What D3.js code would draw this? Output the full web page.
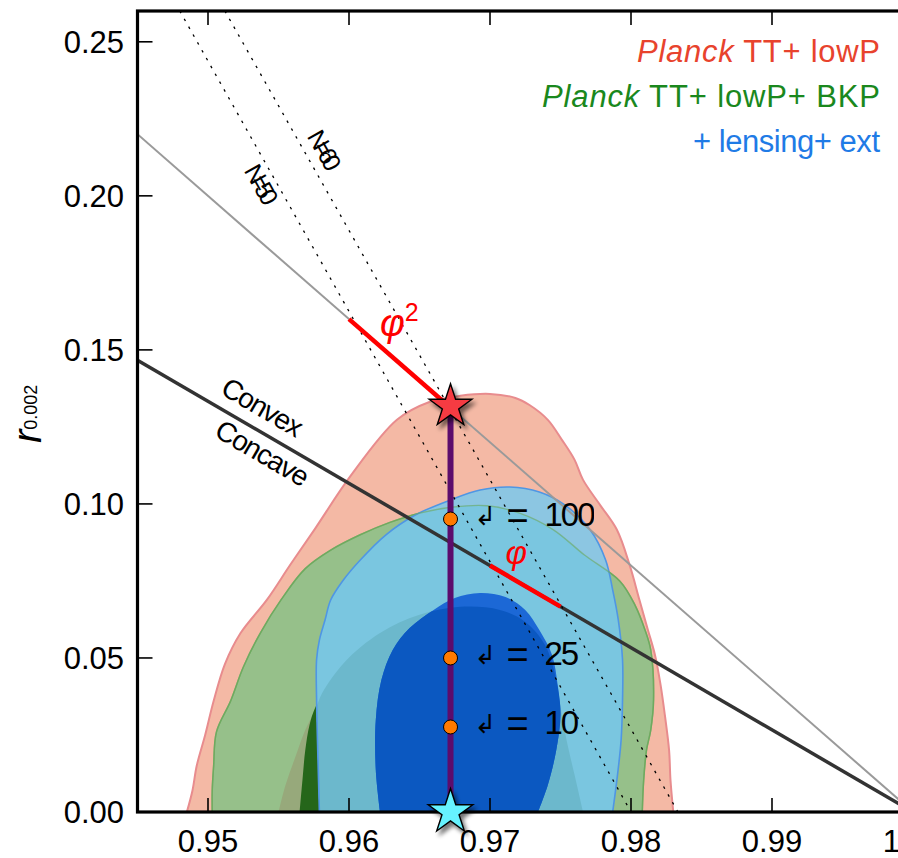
<!DOCTYPE html>
<html>
<head>
<meta charset="utf-8">
<script src="https://cdn.jsdelivr.net/npm/d3@7"></script>
<style>
  html, body { margin: 0; padding: 0; background: #fff; }
  svg { display: block; }
</style>
</head>
<body>
<div id="chart"></div>
<script>
// ---- axes ----
const xDomain = [0.945, 1.0];
const yDomain = [0, 0.26];
const xTicks = [0.95, 0.96, 0.97, 0.98, 0.99, 1.00];
const xTickLabels = ["0.95", "0.96", "0.97", "0.98", "0.99", "1.00"];
const yTicks = [0.00, 0.05, 0.10, 0.15, 0.20, 0.25];
const yTickLabels = ["0.00", "0.05", "0.10", "0.15", "0.20", "0.25"];

// ---- confidence contours, [n_s, r] ----
const planck95 = [[0.9485,0.000],[0.9489,0.007],[0.9492,0.015],[0.9498,0.025],[0.9504,0.036],[0.9512,0.048],[0.9523,0.058],[0.9542,0.069],[0.9558,0.080],[0.9576,0.092],[0.9601,0.109],[0.9634,0.1273],[0.9657,0.1331],[0.9679,0.1351],[0.9700,0.1357],[0.9718,0.1344],[0.9728,0.1321],[0.9741,0.1273],[0.9751,0.1208],[0.9760,0.1143],[0.9766,0.1078],[0.9778,0.0997],[0.9790,0.0916],[0.9799,0.0802],[0.9806,0.0688],[0.9812,0.0591],[0.9817,0.0510],[0.9821,0.0412],[0.9824,0.0315],[0.9827,0.0201],[0.9828,0.0104],[0.9830,0.000]];
const planck68 = [[0.9550,0],[0.9555,0.0088],[0.9562,0.0179],[0.9569,0.0266],[0.9576,0.0331],[0.9581,0.0386],[0.9597,0.0487],[0.9622,0.0581],[0.9650,0.0640],[0.9679,0.0666],[0.9707,0.0656],[0.9725,0.0617],[0.9739,0.0542],[0.9747,0.0429],[0.9751,0.0315],[0.9755,0.0218],[0.9760,0.0120],[0.9766,0]];
const bkp95 = [[0.9503,0],[0.9503,0.007],[0.9504,0.015],[0.9506,0.026],[0.9516,0.036],[0.9525,0.047],[0.9537,0.058],[0.9552,0.069],[0.9569,0.079],[0.9587,0.085],[0.9608,0.090],[0.9629,0.094],[0.9650,0.097],[0.9674,0.099],[0.9698,0.0994],[0.9721,0.097],[0.9745,0.0916],[0.9767,0.0834],[0.9792,0.075],[0.9803,0.067],[0.9810,0.059],[0.9814,0.0526],[0.9816,0.0364],[0.9814,0.0266],[0.9811,0.0201],[0.9809,0.0104],[0.9808,0]];
const bkp68 = [[0.9565,0],[0.9567,0.0104],[0.9569,0.0201],[0.9572,0.0282],[0.9576,0.0338],[0.9587,0.0429],[0.9608,0.0526],[0.9636,0.0591],[0.9672,0.0623],[0.9707,0.0607],[0.9728,0.0542],[0.9741,0.0429],[0.9746,0.0266],[0.9748,0]];
const ext95 = [[0.9579,0],[0.9578,0.0169],[0.9577,0.0364],[0.9577,0.0494],[0.9579,0.0558],[0.9583,0.0623],[0.9587,0.0688],[0.9596,0.0753],[0.9608,0.0818],[0.9626,0.0899],[0.9647,0.0964],[0.9672,0.1013],[0.9693,0.1045],[0.9714,0.1055],[0.9735,0.1039],[0.9753,0.0997],[0.9771,0.0916],[0.9782,0.0818],[0.9787,0.0721],[0.9791,0.0623],[0.9794,0.0494],[0.9794,0.0364],[0.9793,0.0234],[0.9790,0.0104],[0.9787,0]];
const ext68 = [[0.9622,0],[0.9619,0.0136],[0.9619,0.0299],[0.9623,0.0429],[0.9631,0.0526],[0.9643,0.0597],[0.9660,0.0656],[0.9675,0.0695],[0.9693,0.0711],[0.9711,0.0698],[0.9725,0.0656],[0.9735,0.0591],[0.9744,0.0510],[0.9748,0.0412],[0.9750,0.0315],[0.9747,0.0201],[0.9741,0.0088],[0.9734,0]];

// ---- model lines ----
const quadraticLine = [[0.945, 0.22], [1.0, 0.0]];          // r = 4(1 - n_s)
const convexLine = [[0.945, 0.14667], [1.0, 0.0]];          // r = 8/3 (1 - n_s)
const n50Line = [[0.9480, 0.26], [0.9800, 0.0]];
const n60Line = [[0.9512, 0.26], [0.98333, 0.0]];
const phi2Segment = [[0.960, 0.160], [0.96667, 0.13333]];
const phiSegment = [[0.970, 0.080], [0.975, 0.06667]];

// ---- highlighted model track ----
const trackNs = 0.9672;
const starTop = [0.9672, 0.1317];
const starBottom = [0.9672, 0.0];
const ellValues = ["100", "25", "10"];
const ellR = [0.0951, 0.050, 0.0276];

// ---- legend ----
const legendItalic = ["Planck", "Planck", ""];
const legendRest = [" TT+ lowP", " TT+ lowP+ BKP", "+ lensing+ ext"];
const legendColors = ["#e8432d", "#1a881d", "#1f7be6"];

const W = 898, H = 858;
const x = d3.scaleLinear().domain(xDomain).range([137.5, 913]);
const y = d3.scaleLinear().domain(yDomain).range([812, 11]);

const svg = d3.select("#chart").append("svg")
  .attr("width", W).attr("height", H)
  .style("font-family", "'Liberation Sans', Arial, sans-serif");
const defs = svg.append("defs");

defs.append("clipPath").attr("id", "plotClip").append("rect")
  .attr("x", x(xDomain[0])).attr("y", y(yDomain[1]))
  .attr("width", x(xDomain[1]) - x(xDomain[0]))
  .attr("height", y(yDomain[0]) - y(yDomain[1]));

const curve = d3.line().x(d => x(d[0])).y(d => y(d[1])).curve(d3.curveCatmullRom.alpha(0.5));
const shape = pts => curve(pts) + "Z";

function regionClip(id, pts) {
  defs.append("clipPath").attr("id", id).append("path").attr("d", shape(pts));
}
regionClip("clipPlanck68", planck68);
regionClip("clipBkp95", bkp95);

const shadow = defs.append("filter").attr("id", "shadow")
  .attr("x", "-50%").attr("y", "-50%").attr("width", "200%").attr("height", "200%");
shadow.append("feGaussianBlur").attr("in", "SourceAlpha").attr("stdDeviation", 2.2).attr("result", "b");
shadow.append("feOffset").attr("in", "b").attr("dx", 3).attr("dy", 4).attr("result", "o");
shadow.append("feComponentTransfer").attr("in", "o").attr("result", "s")
  .append("feFuncA").attr("type", "linear").attr("slope", 0.55);
const fm = shadow.append("feMerge");
fm.append("feMergeNode").attr("in", "s");
fm.append("feMergeNode").attr("in", "SourceGraphic");

const plot = svg.append("g").attr("clip-path", "url(#plotClip)");

function fill(g, pts, color, stroke, sw) {
  g.append("path").attr("d", shape(pts)).attr("fill", color)
    .attr("stroke", stroke || "none").attr("stroke-width", sw || 0);
}

// contour fills
fill(plot, planck95, "#f4b9a5", "#e88c8e", 2);
fill(plot, bkp95, "#96c08a", "#74ad66", 1.5);
fill(plot.append("g").attr("clip-path", "url(#clipPlanck68)"), bkp95, "#97a97b");
fill(plot, bkp68, "#25661a");
fill(plot, ext95, "#8cc6e2");
fill(plot.append("g").attr("clip-path", "url(#clipBkp95)"), ext95, "#7ac6e0");
fill(plot.append("g").attr("clip-path", "url(#clipPlanck68)"), ext95, "#6cb8cc");
plot.append("path").attr("d", shape(ext95)).attr("fill", "none").attr("stroke", "#4f96e4").attr("stroke-width", 1.6);
fill(plot, ext68, "#1c68d6");
fill(plot.append("g").attr("clip-path", "url(#clipPlanck68)"), ext68, "#0b58c1");
plot.append("path").attr("d", shape(bkp95)).attr("fill", "none")
  .attr("stroke", "#6aa85c").attr("stroke-width", 1.4).attr("stroke-opacity", 0.6);

// model lines
const straight = d3.line().x(d => x(d[0])).y(d => y(d[1]));
plot.append("path").attr("d", straight(quadraticLine)).attr("stroke", "#9a9a9a").attr("stroke-width", 2).attr("fill", "none");
plot.append("path").attr("d", straight(convexLine)).attr("stroke", "#333").attr("stroke-width", 3.5).attr("fill", "none");
[n50Line, n60Line].forEach(l => {
  plot.append("path").attr("d", straight(l)).attr("stroke", "#000").attr("stroke-width", 1.3)
    .attr("stroke-dasharray", "2.5,6.5").attr("fill", "none");
});
[phi2Segment, phiSegment].forEach(l => {
  plot.append("path").attr("d", straight(l)).attr("stroke", "#ff0000").attr("stroke-width", 4.5).attr("fill", "none");
});

// vertical track
plot.append("line").attr("x1", x(trackNs)).attr("x2", x(trackNs))
  .attr("y1", y(starBottom[1])).attr("y2", y(starTop[1]))
  .attr("stroke", "#5c0c6c").attr("stroke-width", 6);

// spines and ticks
const x0 = x(xDomain[0]), x1 = x(xDomain[1]), y0 = y(yDomain[0]), y1 = y(yDomain[1]);
svg.append("rect").attr("x", x0).attr("y", y1).attr("width", x1 - x0).attr("height", y0 - y1)
  .attr("fill", "none").attr("stroke", "#000").attr("stroke-width", 3.2);
const ticks = svg.append("g").attr("stroke", "#000").attr("stroke-width", 1.6);
xTicks.forEach(t => {
  ticks.append("line").attr("x1", x(t)).attr("x2", x(t)).attr("y1", y0).attr("y2", y0 - 14);
  ticks.append("line").attr("x1", x(t)).attr("x2", x(t)).attr("y1", y1).attr("y2", y1 + 14);
});
yTicks.forEach(t => {
  ticks.append("line").attr("x1", x0).attr("x2", x0 + 15).attr("y1", y(t)).attr("y2", y(t));
  ticks.append("line").attr("x1", x1).attr("x2", x1 - 15).attr("y1", y(t)).attr("y2", y(t));
});
xTicks.forEach((t, i) => {
  svg.append("text").attr("x", x(t)).attr("y", 852).attr("text-anchor", "middle")
    .attr("font-size", 31).text(xTickLabels[i]);
});
yTicks.forEach((t, i) => {
  svg.append("text").attr("x", 124).attr("y", y(t) + 11).attr("text-anchor", "end")
    .attr("font-size", 31).text(yTickLabels[i]);
});

// y label
const yl = svg.append("text").attr("transform", "translate(41,443) rotate(-90)");
yl.append("tspan").attr("font-style", "italic").attr("font-size", 40).text("r");
yl.append("tspan").attr("font-size", 18).attr("dy", -4).text("0.002");

// track markers
const dots = svg.append("g");
ellR.forEach((r, i) => {
  dots.append("circle").attr("cx", x(trackNs)).attr("cy", y(r)).attr("r", 7)
    .attr("fill", "#ff7a00").attr("stroke", "#000").attr("stroke-width", 1);
  const cy = y(r);
  const cut = i === 0 ? 594 : 582;
  const cid = "lab" + i;
  defs.append("clipPath").attr("id", cid).append("rect")
    .attr("x", x(trackNs) + 20).attr("y", cy - 30).attr("width", cut - x(trackNs) - 20).attr("height", 60);
  const g = svg.append("g").attr("clip-path", `url(#${cid})`);
  g.append("text").attr("x", x(trackNs) + 24).attr("y", cy + 6)
    .attr("font-family", "'DejaVu Sans'").attr("font-size", 26).text("\u21B2");
  g.append("text").attr("x", x(trackNs) + 56).attr("y", cy + 10)
    .attr("font-size", 38).text("=");
  g.append("text").attr("x", x(trackNs) + 94).attr("y", cy + 7)
    .attr("font-size", 33).attr("letter-spacing", -2).text(ellValues[i]);
});

// stars
const starPath = (R) => d3.symbol().type(d3.symbolStar).size(R * R / 0.8908130915292852)();
svg.append("path").attr("d", starPath(22.5))
  .attr("transform", `translate(${x(starTop[0])},${y(starTop[1])})`)
  .attr("fill", "#f53a42").attr("stroke", "#000").attr("stroke-width", 1.4).attr("filter", "url(#shadow)");
svg.append("path").attr("d", starPath(23.5))
  .attr("transform", `translate(${x(starBottom[0])},${y(starBottom[1])})`)
  .attr("fill", "#66f3ff").attr("stroke", "#000").attr("stroke-width", 1.4).attr("filter", "url(#shadow)");

// annotations
const angle = l => Math.atan2(y(l[1][1]) - y(l[0][1]), x(l[1][0]) - x(l[0][0])) * 180 / Math.PI;
function rotLabel(txt, pos, ang, size, ls) {
  svg.append("text").attr("transform", `translate(${x(pos[0])},${y(pos[1])}) rotate(${ang})`)
    .attr("text-anchor", "middle").attr("dy", "0.35em")
    .attr("font-size", size).attr("letter-spacing", ls).text(txt);
}
rotLabel("N=50", [0.95369, 0.2045], angle(n50Line), 25, -6);
rotLabel("N=60", [0.95816, 0.2156], angle(n60Line), 25, -6);
rotLabel("Convex", [0.95383, 0.1315], angle(convexLine), 28, -1.2);
rotLabel("Concave", [0.95383, 0.1166], angle(convexLine), 28, -1.2);

const p2 = svg.append("text").attr("x", x(0.9622)).attr("y", y(0.1545)).attr("fill", "#ff0000");
p2.append("tspan").attr("font-style", "italic").attr("font-size", 38).text("\u03C6");
p2.append("tspan").attr("font-size", 25).attr("dy", -15).text("2");
svg.append("text").attr("x", x(0.9711)).attr("y", y(0.0805)).attr("fill", "#ff0000")
  .attr("font-style", "italic").attr("font-size", 33).text("\u03C6");

// legend
const legendWidths = [243, 338, 187];
legendRest.forEach((rest, i) => {
  const t = svg.append("text").attr("x", 880).attr("y", 62 + 45 * i)
    .attr("text-anchor", "end").attr("font-size", 31).attr("fill", legendColors[i])
    .attr("textLength", legendWidths[i]).attr("lengthAdjust", "spacing");
  if (legendItalic[i]) t.append("tspan").attr("font-style", "italic").text(legendItalic[i]);
  t.append("tspan").text(rest);
});
</script>
</body>
</html>
